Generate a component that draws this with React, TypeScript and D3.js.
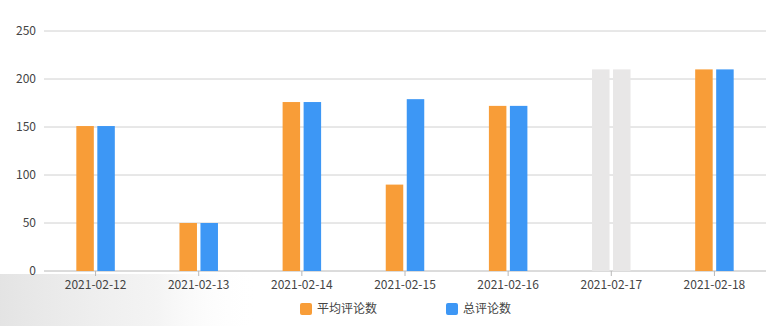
import React from "react";
import * as d3 from "d3";

const categories = ["2021-02-12", "2021-02-13", "2021-02-14", "2021-02-15", "2021-02-16", "2021-02-17", "2021-02-18"];
const avgComments = [151, 50, 176, 90, 172, 210, 210];
const totalComments = [151, 50, 176, 179, 172, 210, 210];
const highlighted = ["2021-02-17"];
const yTicks = [0, 50, 100, 150, 200, 250];
const seriesNames = ["平均评论数", "总评论数"];

const W = 782, H = 326;
const margin = { left: 44, right: 16, top: 31, bottom: 55 };
const colors = ["#F89D38", "#3D97F5"];
const grayColor = "#E8E7E7";
const font = "'Noto Sans CJK SC', 'Noto Sans', sans-serif";

export default function App() {
  const x = d3.scaleBand<string>().domain(categories).range([margin.left, W - margin.right]);
  const y = d3.scaleLinear().domain([0, 250]).range([H - margin.bottom, margin.top]);
  const barW = 17.5;
  const gap = 3.5;
  const series = [avgComments, totalComments];

  return (
    <div style={{ position: "fixed", left: 0, top: 0, width: W, height: H, background: "#fff" }}>
      <svg width={W} height={H} style={{ display: "block", fontFamily: font }}>
        <defs>
          <linearGradient id="wm" x1="0" x2="1" y1="0" y2="0">
            <stop offset="0" stopColor="#d8d8d8" stopOpacity="0.7" />
            <stop offset="0.6" stopColor="#e6e6e6" stopOpacity="0.45" />
            <stop offset="1" stopColor="#ffffff" stopOpacity="0" />
          </linearGradient>
        </defs>
        <rect x={0} y={274} width={260} height={52} fill="url(#wm)" />
        {yTicks.map((t) => (
          <g key={t}>
            <line x1={margin.left} x2={W - margin.right} y1={y(t)} y2={y(t)} stroke={t === 0 ? "#b8b8b8" : "#d0d0d0"} strokeWidth={1} />
            <text x={margin.left - 8} y={y(t)} dy="0.35em" textAnchor="end" fontSize={12} fill="#444">{t}</text>
          </g>
        ))}
        {categories.map((c, i) => {
          const cx = (x(c) as number) + x.bandwidth() / 2;
          const isHi = highlighted.includes(c);
          return (
            <g key={c}>
              {series.map((s, k) => {
                const bx = k === 0 ? cx - gap / 2 - barW : cx + gap / 2;
                return (
                  <rect key={k} x={bx} y={y(s[i])} width={barW} height={y(0) - y(s[i])} fill={isHi ? grayColor : colors[k]} />
                );
              })}
              <line x1={cx} x2={cx} y1={y(0)} y2={y(0) + 5} stroke="#b8b8b8" />
              <text x={cx} y={y(0) + 18} textAnchor="middle" fontSize={12} fill="#444">{c}</text>
            </g>
          );
        })}
        {seriesNames.map((n, k) => {
          const lx = k === 0 ? 300 : 446;
          return (
            <g key={n}>
              <rect x={lx} y={303} width={12} height={12} rx={2} fill={colors[k]} />
              <text x={lx + 17} y={309} dy="0.35em" fontSize={12} fill="#444">{n}</text>
            </g>
          );
        })}
      </svg>
    </div>
  );
}
